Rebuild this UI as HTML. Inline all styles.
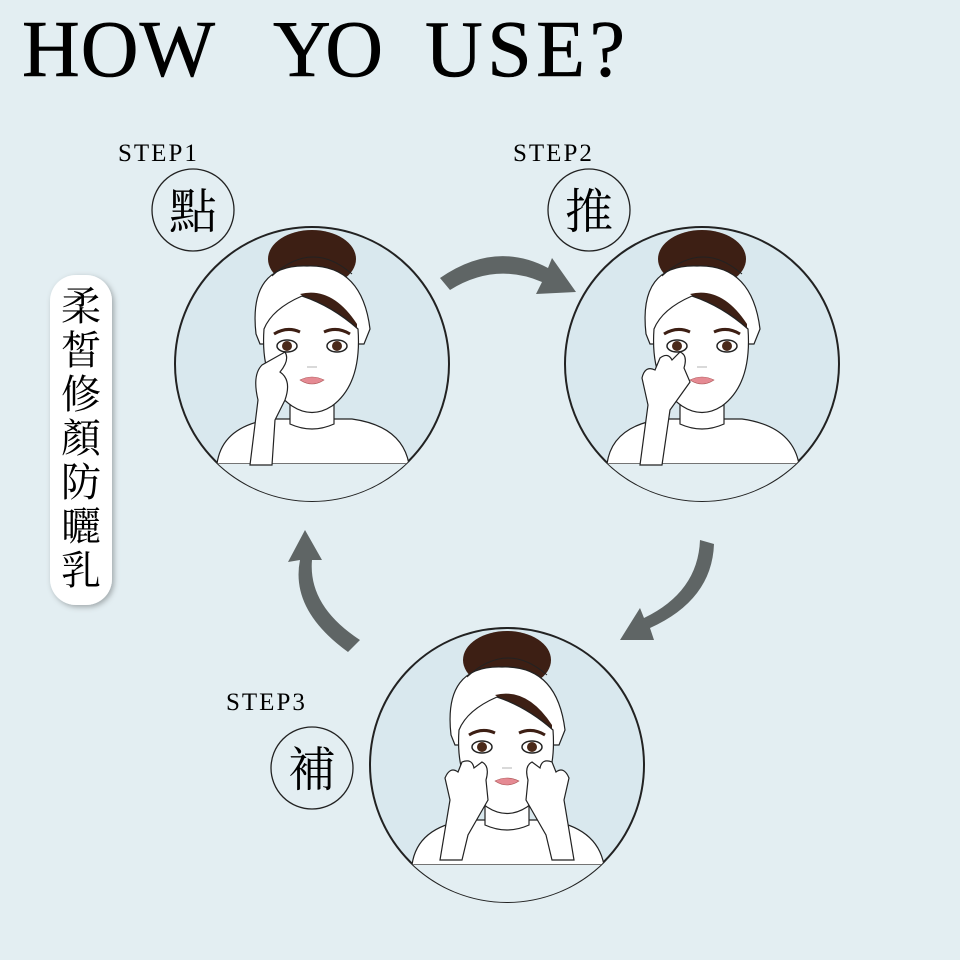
<!DOCTYPE html>
<html><head><meta charset="utf-8"><style>
html,body{margin:0;padding:0;background:#e3eef2;}
svg{display:block}
</style></head><body>
<svg width="960" height="960" viewBox="0 0 960 960" xmlns="http://www.w3.org/2000/svg">
<defs>
<filter id="sh" x="-30%" y="-10%" width="160%" height="120%"><feDropShadow dx="2" dy="2" stdDeviation="3" flood-color="#000" flood-opacity="0.3"/></filter>
<clipPath id="c1"><circle cx="0" cy="0" r="137"/></clipPath>
<g id="face">
 <g clip-path="url(#c1)">
  <path d="M-95,100 Q-90,62 -40,55 L40,55 Q90,62 97,100 L97,100 Z" fill="#fff" stroke="#222" stroke-width="1.2"/>
  <rect x="-100" y="100" width="200" height="40" fill="#e3eef2"/>
  <path d="M-22,25 L-22,60 Q0,70 22,60 L22,25 Z" fill="#fff" stroke="#222" stroke-width="1.2"/>
 </g>
 <ellipse cx="0" cy="-105" rx="44" ry="29" fill="#3d1f14"/>
 <path d="M-56,-30 Q-64,-100 -5,-98 Q50,-100 58,-35 L52,-20 L-52,-20 Z" fill="#fff" stroke="#222" stroke-width="1.2"/>
 <path d="M-40,-88 Q0,-125 40,-90" fill="none" stroke="#222" stroke-width="1"/>
 <path d="M-12,-70 Q20,-78 45,-40 L45,-30 Q10,-55 -12,-70 Z" fill="#3d1f14"/>
 <path d="M-48,-35 Q-52,20 -20,42 Q0,55 20,42 Q50,20 46,-35 Q20,-58 -10,-68 Q-40,-55 -48,-35 Z" fill="#fff" stroke="#222" stroke-width="1.2"/>
 <path d="M-38,-30 Q-25,-38 -12,-32" stroke="#3d1f14" stroke-width="3" fill="none"/>
 <path d="M12,-32 Q25,-38 38,-30" stroke="#3d1f14" stroke-width="3" fill="none"/>
 <ellipse cx="-25" cy="-18" rx="10" ry="6" fill="#fff" stroke="#222" stroke-width="1.5"/>
 <circle cx="-25" cy="-18" r="5" fill="#4a2a1a"/>
 <ellipse cx="25" cy="-18" rx="10" ry="6" fill="#fff" stroke="#222" stroke-width="1.5"/>
 <circle cx="25" cy="-18" r="5" fill="#4a2a1a"/>
 <path d="M-12,16 Q0,10 12,16 Q0,24 -12,16 Z" fill="#e58a93" stroke="#a55" stroke-width="0.6"/>
 <path d="M-5,3 L5,3" stroke="#ccc" stroke-width="1.5"/>
</g>
</defs>
<g font-family="Liberation Serif, serif" font-size="80" stroke="#000" stroke-width="0.6">
<text x="22" y="76" textLength="193" lengthAdjust="spacing">HOW</text>
<text x="273" y="76" textLength="110" lengthAdjust="spacing">YO</text>
<text x="425" y="76" textLength="200" lengthAdjust="spacing">USE?</text>
</g>
<text x="118" y="161" font-family="Liberation Serif, serif" font-size="25" letter-spacing="2">STEP1</text>
<text x="513" y="161" font-family="Liberation Serif, serif" font-size="25" letter-spacing="2">STEP2</text>
<text x="226" y="710" font-family="Liberation Serif, serif" font-size="25" letter-spacing="2">STEP3</text>
<g fill="none" stroke="#222" stroke-width="1.3">
<circle cx="193" cy="210" r="41"/><circle cx="589" cy="210" r="41"/><circle cx="312" cy="768" r="41"/>
</g>
<g font-family="Liberation Serif, 'Noto Serif CJK SC', serif" font-size="48" text-anchor="middle">
<text x="193" y="228">點</text><text x="589" y="228">推</text><text x="312" y="786">補</text>
</g>
<rect x="50" y="275" width="62" height="330" rx="26" fill="#fff" filter="url(#sh)"/>
<g font-family="'Noto Serif CJK SC', serif" font-size="40" text-anchor="middle">
<text x="81" y="320">柔</text><text x="81" y="364">皙</text><text x="81" y="408">修</text><text x="81" y="452">顏</text><text x="81" y="496">防</text><text x="81" y="540">曬</text><text x="81" y="584">乳</text>
</g>
<g fill="#d9e8ee" stroke="#222" stroke-width="2">
<circle cx="312" cy="364" r="137"/><circle cx="702" cy="364" r="137"/><circle cx="507" cy="765" r="137"/>
</g>
<use href="#face" transform="translate(312,364)"/>
<use href="#face" transform="translate(702,364)"/>
<use href="#face" transform="translate(507,765)"/>
<g fill="#fff" stroke="#222" stroke-width="1.2">
<path d="M250,465 L258,400 Q252,375 262,365 L285,352 Q290,360 280,372 Q292,380 285,400 L275,420 L272,465 Z"/>
<path d="M640,465 L648,405 L642,378 Q645,365 655,370 L660,358 Q668,352 672,360 L680,352 Q688,355 684,368 L690,382 L670,410 L662,465 Z"/>
<path d="M440,860 L450,800 L445,778 Q450,766 458,772 L462,762 Q472,758 474,768 L482,762 Q490,766 486,780 L488,800 L468,835 L462,860 Z"/>
<path d="M574,860 L564,800 L569,778 Q564,766 556,772 L552,762 Q542,758 540,768 L532,762 Q524,766 528,780 L526,800 L546,835 L552,860 Z"/>
</g>
<g fill="#5f6565">
<path d="M440,278 Q495,240 548,268 L552,258 L576,292 L536,294 L542,282 Q495,262 450,290 Z"/>
<path d="M700,540 L714,544 Q712,600 650,628 L654,640 L620,640 L640,608 L644,618 Q698,592 700,540 Z"/>
<path d="M360,640 L348,652 Q290,610 300,560 L288,562 L305,530 L322,560 L312,560 Q308,606 360,640 Z"/>
</g>
</svg>
</body></html>
